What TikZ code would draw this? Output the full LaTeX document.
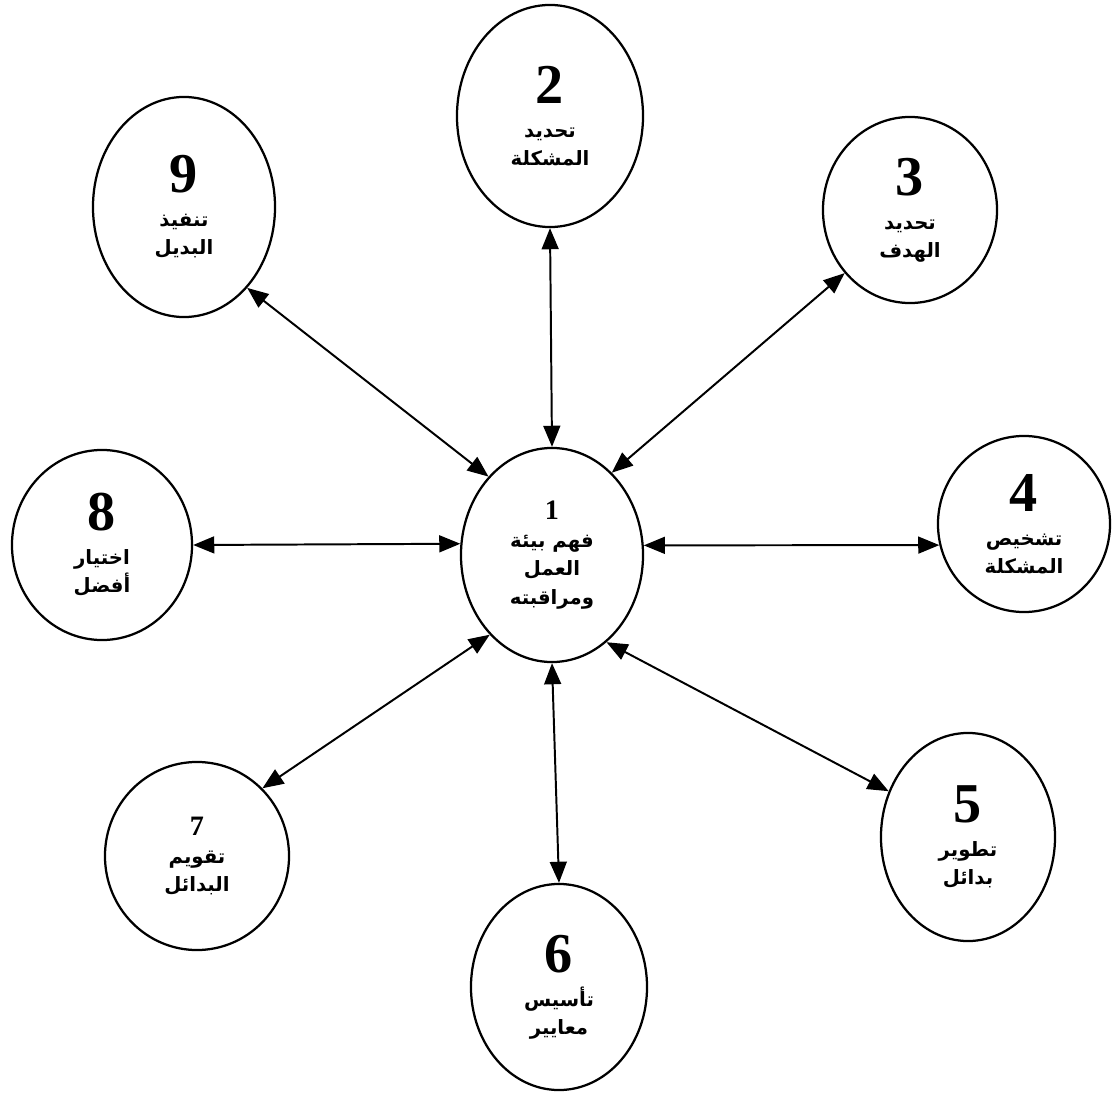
\documentclass[tikz,border=0pt]{standalone}
\usepackage{fontspec}
\usetikzlibrary{shapes.geometric,arrows.meta}
\TeXXeTstate=1
\newfontfamily\arabicfont[Script=Arabic]{DejaVu Sans}
\newfontfamily\numfont{Liberation Serif}
\newcommand{\arline}[1]{{\arabicfont\bfseries\beginR #1\endR}}
\newcommand{\bignum}[1]{{\numfont\bfseries\fontsize{40}{40}\selectfont #1}}
\newcommand{\smallnum}[1]{{\numfont\bfseries\fontsize{20}{20}\selectfont #1}}
\tikzset{
  stage/.style 2 args={draw, ellipse, line width=1.6pt, inner sep=0pt,
    minimum width=#1*0.05cm, minimum height=#2*0.05cm, align=center,
    font=\fontsize{14}{20}\selectfont},
  link/.style={line width=1.4pt, {Triangle[length=15pt,width=12pt]}-{Triangle[length=15pt,width=12pt]}}
}
\begin{document}
\begin{tikzpicture}[x=0.025cm, y=-0.025cm]
\useasboundingbox (0,0) rectangle (1112,1103);
\node[stage={91}{107}] (n1) at (552,555) {\smallnum{1}\\[0pt]\arline{فهم بيئة}\\\arline{العمل}\\\arline{ومراقبته}};
\node[stage={93}{111}] (n2) at (550,116) {\bignum{2}\\[4pt]\arline{تحديد}\\\arline{المشكلة}};
\node[stage={87}{93}] (n3) at (910,210) {\bignum{3}\\[4pt]\arline{تحديد}\\\arline{الهدف}};
\node[stage={86}{88}] (n4) at (1024,524) {\bignum{4}\\[4pt]\arline{تشخيص}\\\arline{المشكلة}};
\node[stage={87}{104}] (n5) at (968,837) {\bignum{5}\\[4pt]\arline{تطوير}\\\arline{بدائل}};
\node[stage={88}{103}] (n6) at (559,987) {\bignum{6}\\[4pt]\arline{تأسيس}\\\arline{معايير}};
\node[stage={92}{94}] (n7) at (197,856) {\smallnum{7}\\[0pt]\arline{تقويم}\\\arline{البدائل}};
\node[stage={90}{95}] (n8) at (102,545) {\bignum{8}\\[4pt]\arline{اختيار}\\\arline{أفضل}};
\node[stage={91}{110}] (n9) at (184,207) {\bignum{9}\\[4pt]\arline{تنفيذ}\\\arline{البديل}};
\draw[link] (n9.-52) -- (n1.129);
\draw[link] (n2.south) -- (n1.north);
\draw[link] (n3.-136) -- (n1.54);
\draw[link] (n8.0) -- (n1.173);
\draw[link] (n4.-166) -- (n1.6);
\draw[link] (n7.46) -- (n1.-128);
\draw[link] (n5.150) -- (n1.-58);
\draw[link] (n6.north) -- (n1.south);
\end{tikzpicture}
\end{document}
